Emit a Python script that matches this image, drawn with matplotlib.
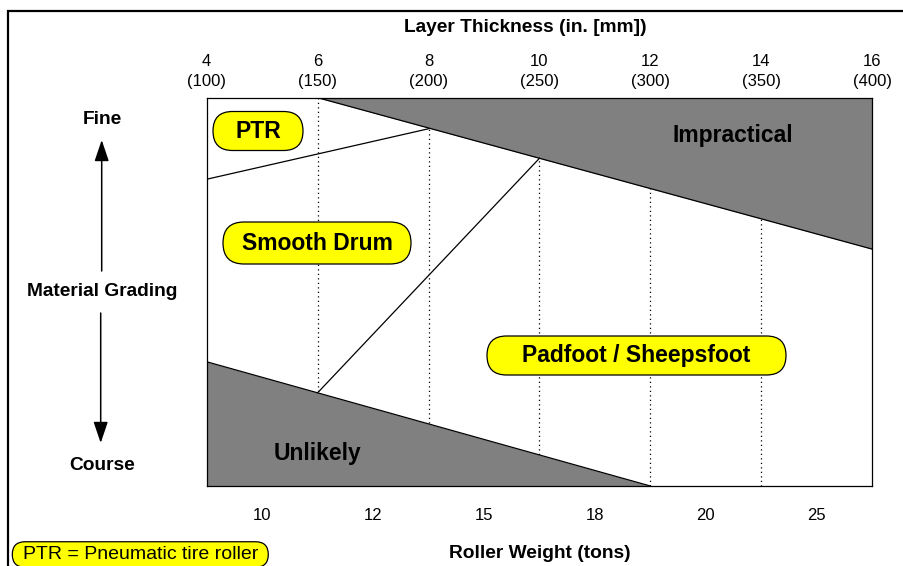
import matplotlib
matplotlib.use("Agg")
import matplotlib.pyplot as plt
from matplotlib.patches import FancyBboxPatch

plt.rcParams["font.family"] = ["Liberation Sans", "DejaVu Sans"]

# top axis: layer thickness
thickness_in = [4, 6, 8, 10, 12, 14, 16]
thickness_mm = [100, 150, 200, 250, 300, 350, 400]
# bottom axis: roller weight, centred between thickness ticks
weight_pos = [5, 7, 9, 11, 13, 15]
weight_tons = [10, 12, 15, 18, 20, 25]
# dotted guides
guide_x = [6, 8, 10, 12, 14]

# zone boundaries (x = layer thickness in., y = grading 0 course .. 1 fine)
impractical_x = [6, 16]
impractical_y = [1.0, 0.61]
ptr_x = [4, 8]
ptr_y = [0.79, 0.92]
padfoot_x = [6, 10]
padfoot_y = [0.24, 0.844]
unlikely_x = [4, 12]
unlikely_y = [0.32, 0.0]

GRAY = "#808080"
YEL = "#ffff00"

fig = plt.figure(figsize=(9.04, 5.66), dpi=100)
ax = fig.add_axes([0.2286, 0.1413, 0.7363, 0.6861])
ax.set_xlim(4, 16)
ax.set_ylim(0, 1)

ax.vlines(guide_x, 0, 1, colors="black", linestyles=(0, (1, 2.6)), lw=0.9, zorder=1)
ax.fill_between(impractical_x, impractical_y, 1.0, color=GRAY, lw=0, zorder=2)
ax.fill_between(unlikely_x, 0, unlikely_y, color=GRAY, lw=0, zorder=2)
for xs, ys in [(impractical_x, impractical_y), (unlikely_x, unlikely_y),
               (ptr_x, ptr_y), (padfoot_x, padfoot_y)]:
    ax.plot(xs, ys, color="black", lw=0.9, zorder=3)

for s in ax.spines.values():
    s.set_linewidth(0.9)
    s.set_zorder(4)
ax.set_yticks([])

ax.set_xticks(thickness_in, labels=[f"{a}\n({b})" for a, b in zip(thickness_in, thickness_mm)])
ax.tick_params(axis="x", top=True, labeltop=True, bottom=False, labelbottom=False,
               length=0, pad=6, labelsize=12)
for lbl in ax.get_xticklabels():
    lbl.set_linespacing(1.45)
ax.xaxis.set_label_position("top")
ax.set_xlabel("Layer Thickness (in. [mm])", fontsize=13.8, fontweight="bold")
ax.xaxis.label.set_verticalalignment("center")
ax.xaxis.set_label_coords(0.479, 1.1795)

sec = ax.secondary_xaxis("bottom")
sec.set_xticks(weight_pos, labels=[str(w) for w in weight_tons])
sec.tick_params(length=0, pad=16, labelsize=12)
sec.spines["bottom"].set_visible(False)
ax.text(0.5, -0.174, "Roller Weight (tons)", transform=ax.transAxes, fontsize=13.8,
        fontweight="bold", ha="center", va="center")

ax.text(13.48, 0.903, "Impractical", fontsize=16.5, fontweight="bold",
        ha="center", va="center", zorder=5)
ax.text(6.0, 0.085, "Unlikely", fontsize=16.5, fontweight="bold",
        ha="center", va="center", zorder=5)

# overlay in pixel coordinates for labels, arrows and frame
ov = fig.add_axes([0, 0, 1, 1], zorder=10)
ov.set_xlim(0, 904)
ov.set_ylim(566, 0)
ov.axis("off")
ov.patch.set_alpha(0)


def pill(xc, yc, w, h, text, size, weight="bold"):
    ov.add_patch(FancyBboxPatch((xc - w / 2, yc - h / 2), w, h,
                                boxstyle=f"round,pad=0,rounding_size={h / 2}",
                                fc=YEL, ec="black", lw=0.9))
    ov.text(xc, yc, text, fontsize=size, fontweight=weight, ha="center", va="center")


pill(258, 131, 90, 39, "PTR", 16.5)
pill(317, 243, 188, 42, "Smooth Drum", 16.5)
pill(636.5, 355.5, 299, 39, "Padfoot / Sheepsfoot", 16.5)
pill(140.3, 554.5, 256, 25.5, "PTR = Pneumatic tire roller", 14, weight="normal")

# grading labels and arrows
ov.text(102, 119, "Fine", fontsize=13.8, fontweight="bold", ha="center", va="center")
ov.text(102, 292, "Material Grading", fontsize=13.8, fontweight="bold", ha="center", va="center")
ov.text(102, 465, "Course", fontsize=13.8, fontweight="bold", ha="center", va="center")
arr = dict(arrowstyle="-|>,head_length=0.65,head_width=0.22", color="black", lw=1.1,
           mutation_scale=20, shrinkA=0, shrinkB=0)
ov.annotate("", xy=(101.7, 140), xytext=(101.7, 271), arrowprops=arr)
ov.annotate("", xy=(100.7, 443), xytext=(100.7, 313), arrowprops=arr)

# outer frame (left and top edges)
ov.plot([8.3, 8.3, 904], [566, 11, 11], color="black", lw=1.6, solid_joinstyle="miter")

fig.savefig("out.png", dpi=100)
